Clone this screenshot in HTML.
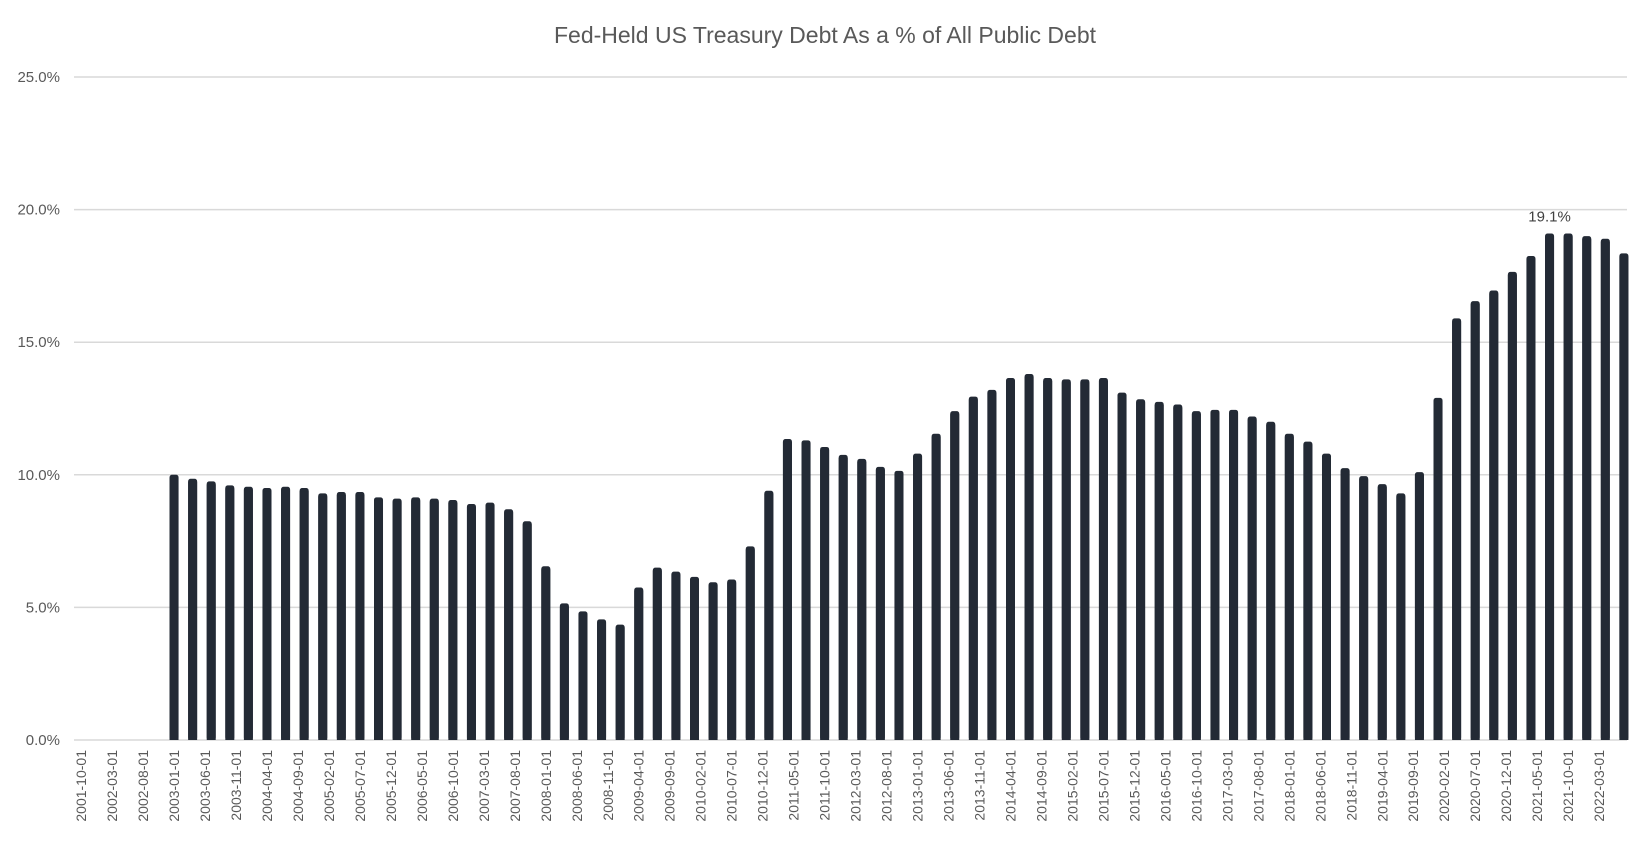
<!DOCTYPE html>
<html><head><meta charset="utf-8"><style>
html,body{margin:0;padding:0;background:#fff;}
svg{display:block;font-family:"Liberation Sans",sans-serif;}
</style></head><body>
<svg id="chart" width="1650" height="853" viewBox="0 0 1650 853">
<text x="825" y="43" text-anchor="middle" font-size="23" fill="#595959">Fed-Held US Treasury Debt As a % of All Public Debt</text>
<g id="grid"></g><g id="bars"></g><g id="xlabels"></g>
</svg>
<script>
const startYear = 2003;
const values = [10.0,9.85,9.75,9.6,9.55,9.5,9.55,9.5,9.3,9.35,9.35,9.15,9.1,9.15,9.1,9.05,8.9,8.95,8.7,8.25,
6.55,5.15,4.85,4.55,4.35,5.75,6.5,6.35,6.15,5.95,6.05,7.3,9.4,11.35,11.3,11.05,10.75,10.6,10.3,10.15,
10.8,11.55,12.4,12.95,13.2,13.65,13.8,13.65,13.6,13.6,13.65,13.1,12.85,12.75,12.65,12.4,12.45,12.45,12.2,12.0,
11.55,11.25,10.8,10.25,9.95,9.65,9.3,10.1,12.9,15.9,16.55,16.95,17.65,18.25,19.1,19.1,19.0,18.9,18.35];
const yTicks = [0,5,10,15,20,25];
const axisStart = {y:2001,m:10};
const axisMonths = 250;
const labelStep = 5;
const peakLabel = "19.1%";

const NS="http://www.w3.org/2000/svg";
const L=78, R=1627, Y0=740, Y25=77;
const y=v=>Y0-(v/25)*(Y0-Y25);
const mw=(R-L)/axisMonths;
const xm=i=>L+(i+0.5)*mw;
function mk(t,a,p){const e=document.createElementNS(NS,t);for(const k in a)e.setAttribute(k,a[k]);p.appendChild(e);return e;}
const grid=document.getElementById('grid');
yTicks.forEach(t=>{
  const l=mk('line',{x1:L-4,x2:R,y1:y(t),y2:y(t),stroke:'#d9d9d9','stroke-width':1.5},grid);
  
  
  const tx=mk('text',{x:60,y:y(t)+5,'text-anchor':'end','font-size':15,fill:'#595959'},grid);
  tx.textContent=t.toFixed(1)+'%';
  
  
});
const bars=document.getElementById('bars');
const off=(startYear-axisStart.y)*12+(1-axisStart.m);
let maxI=0;values.forEach((v,i)=>{if(v>values[maxI])maxI=i;});
values.forEach((v,i)=>{
  const cx=xm(off+i*3);
  const r=mk('rect',{x:cx-4.5,y:y(v),width:9,height:Y0-y(v),rx:2.5,fill:'#232a35'},bars);
  
  
  mk('rect',{x:cx-4.5,y:y(v)+3,width:9,height:Math.max(0,Y0-y(v)-3),fill:'#232a35'},bars);
});
const pk=mk('text',{x:xm(off+maxI*3),y:y(values[maxI])-12,'text-anchor':'middle','font-size':15,fill:'#404040'},bars);
pk.textContent=peakLabel;


const xl=document.getElementById('xlabels');
for(let i=0;i<axisMonths;i+=labelStep){
  const tot=axisStart.y*12+axisStart.m-1+i;
  const yy=Math.floor(tot/12), mm=tot%12+1;
  const s=yy+'-'+String(mm).padStart(2,'0')+'-01';
  const cx=xm(i);
  const t=mk('text',{x:0,y:0,'text-anchor':'end','font-size':14,fill:'#595959',transform:`translate(${cx+5},${Y0+10}) rotate(-90)`},xl);
  t.textContent=s;
  
  
}
</script>
</body></html>
